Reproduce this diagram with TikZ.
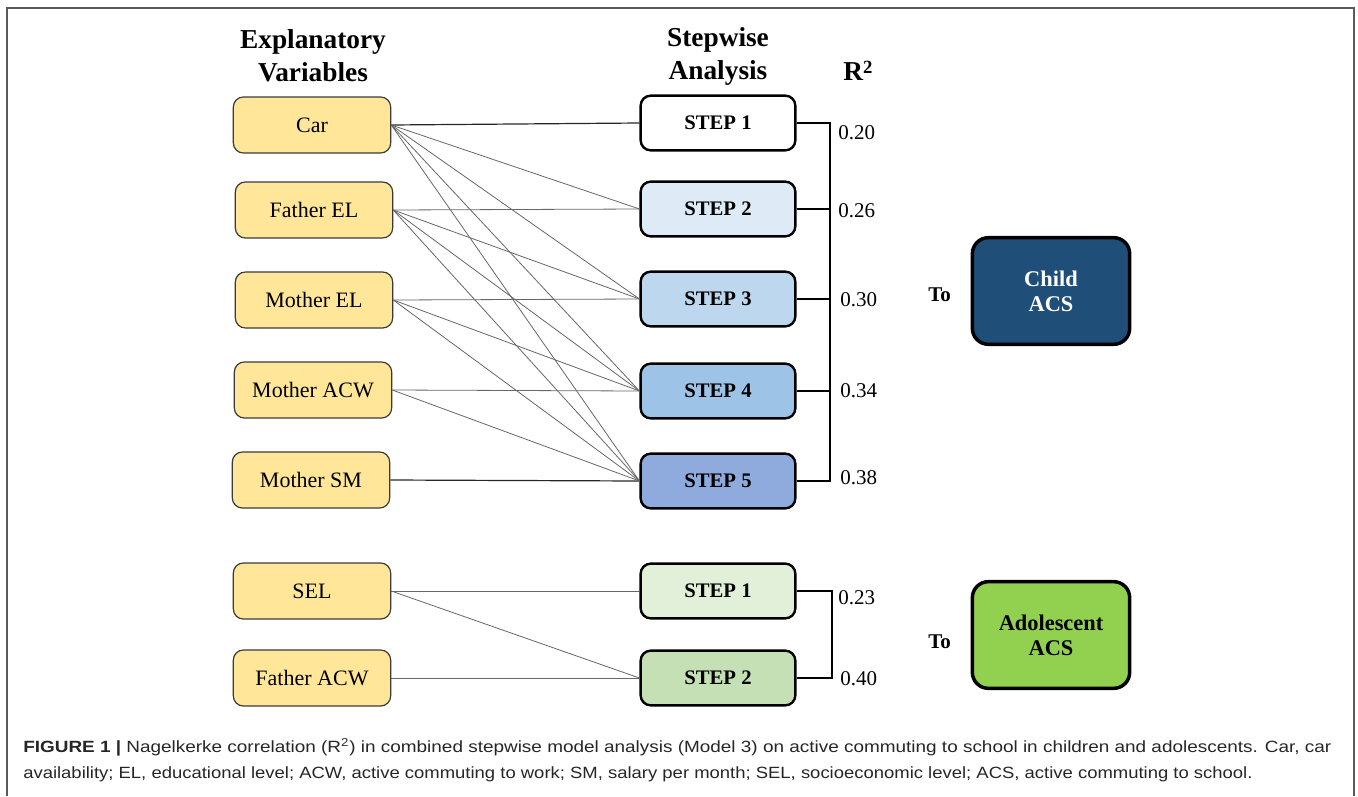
\documentclass[tikz,border=0pt]{standalone}
\usepackage{fontspec}
\setmainfont{Liberation Serif}
\setsansfont{Liberation Sans}
\usepackage{graphicx}

\begin{document}
\begin{tikzpicture}[x=0.75pt, y=-0.75pt,
    varbox/.style={draw=boxBorder, fill=varFill, line width=0.9pt, rounded corners=7.5pt,
        minimum width=118pt, minimum height=42pt, inner sep=0pt, font=\fontsize{16.5}{20}\selectfont},
    stepbox/.style={draw=black, line width=1.8pt, rounded corners=7.5pt,
        minimum width=116pt, minimum height=41pt, inner sep=0pt, font=\fontsize{15.5}{19}\selectfont\bfseries},
    outbox/.style={draw=black, line width=2.6pt, rounded corners=12pt, align=center,
        minimum width=118pt, minimum height=80pt, inner sep=0pt, font=\fontsize{16.8}{18.75}\selectfont\bfseries},
    header/.style={align=center, inner sep=0pt, font=\fontsize{20.5}{24.75}\selectfont\bfseries},
    rvalue/.style={anchor=west, inner sep=0pt, font=\fontsize{15.75}{19}\selectfont},
    tolabel/.style={anchor=west, inner sep=0pt, font=\fontsize{15.75}{19}\selectfont\bfseries},
    link/.style={draw=black!60, line width=0.6pt},
    mainlink/.style={draw=black!85, line width=0.9pt},
    bracket/.style={draw=black, line width=1.5pt},
    caption/.style={anchor=base west, inner sep=0pt, text=black!85, font=\fontsize{12.2}{14}\sffamily}]
    \definecolor{boxBorder}{HTML}{3A3A3A}
    \definecolor{varFill}{HTML}{FFE699}
    \definecolor{stepTwo}{HTML}{DEEBF7}
    \definecolor{stepThree}{HTML}{BDD7EE}
    \definecolor{stepFour}{HTML}{9DC3E6}
    \definecolor{stepFive}{HTML}{8FAADC}
    \definecolor{adoOne}{HTML}{E2F0D9}
    \definecolor{adoTwo}{HTML}{C5E0B4}
    \definecolor{childFill}{HTML}{1F4E79}
    \definecolor{adoFill}{HTML}{92D050}
    \definecolor{frameColour}{HTML}{5A5A5A}

    \useasboundingbox (0,0) rectangle (1358,796);

    % Frame round the figure
    \draw[frameColour, line width=1.5pt] (7,796) -- (7,8) -- (1354,8) -- (1354,796);

    % Column headers
    \node[header, anchor=north] (hvar) at (313,29) {Explanatory\\Variables};
    \node[header, anchor=north] (hstep) at (718,27) {Stepwise\\Analysis};
    \node[header, anchor=base] (hr) at (858,80) {R\raisebox{0.25em}{\fontsize{14}{14}\selectfont 2}};

    % Explanatory variables
    \node[varbox] (car) at (312,125) {Car};
    \node[varbox] (fel) at (314,210) {Father EL};
    \node[varbox] (mel) at (314,300) {Mother EL};
    \node[varbox] (macw) at (313,390) {Mother ACW};
    \node[varbox] (msm) at (311,480) {Mother SM};
    \node[varbox] (sel) at (312,591) {SEL};
    \node[varbox] (facw) at (312,678) {Father ACW};

    % Steps, children
    \node[stepbox, fill=white] (c1) at (718,123) {STEP 1};
    \node[stepbox, fill=stepTwo] (c2) at (718,209) {STEP 2};
    \node[stepbox, fill=stepThree] (c3) at (718,299) {STEP 3};
    \node[stepbox, fill=stepFour] (c4) at (718,391) {STEP 4};
    \node[stepbox, fill=stepFive] (c5) at (718,481) {STEP 5};

    % Steps, adolescents
    \node[stepbox, fill=adoOne] (a1) at (718,591) {STEP 1};
    \node[stepbox, fill=adoTwo] (a2) at (718,678) {STEP 2};

    % Outcomes
    \node[outbox, fill=childFill, text=white] (child) at (1051,291) {Child\\ACS};
    \node[outbox, fill=adoFill] (ado) at (1051,635) {Adolescent\\ACS};
    \node[tolabel] (tochild) at (928,295) {To};
    \node[tolabel] (toado) at (928,642) {To};

    % Variables entering each step
    \draw[mainlink] (car.east) -- (c1.west);
    \draw[mainlink] (msm.east) -- (c5.west);
    \foreach \v/\s in {car/c2, car/c3, car/c4, car/c5,
                       fel/c2, fel/c3, fel/c4, fel/c5,
                       mel/c3, mel/c4, mel/c5,
                       macw/c4, macw/c5,
                       sel/a1, sel/a2, facw/a2}
        \draw[link] (\v.east) -- (\s.west);

    % R2 bracket, children
    \coordinate (cb) at (830,123);
    \draw[bracket] (c1.east) -- (c1.east -| cb) -- (c5.east -| cb) -- (c5.east);
    \foreach \s in {c2, c3, c4}
        \draw[bracket] (\s.east) -- (\s.east -| cb);

    % R2 bracket, adolescents
    \coordinate (ab) at (832,595);
    \draw[bracket] (a1.east) -- (a1.east -| ab) -- (a2.east -| ab) -- (a2.east);

    % R2 values
    \node[rvalue] (r1) at (838,133) {0.20};
    \node[rvalue] (r2) at (838,211) {0.26};
    \node[rvalue] (r3) at (840,300) {0.30};
    \node[rvalue] (r4) at (840,391) {0.34};
    \node[rvalue] (r5) at (840,478) {0.38};
    \node[rvalue] (r6) at (838,598) {0.23};
    \node[rvalue] (r7) at (840,679) {0.40};

    % Caption
    \node[caption] (cap1) at (23,752) {\resizebox{981pt}{\height}{\textbf{FIGURE 1 |} Nagelkerke correlation (R\textsuperscript{2}) in combined stepwise model analysis (Model 3) on active commuting to school in children and adolescents. Car, car}};
    \node[caption] (cap2) at (23,778) {\resizebox{922pt}{\height}{availability; EL, educational level; ACW, active commuting to work; SM, salary per month; SEL, socioeconomic level; ACS, active commuting to school.}};
\end{tikzpicture}
\end{document}
